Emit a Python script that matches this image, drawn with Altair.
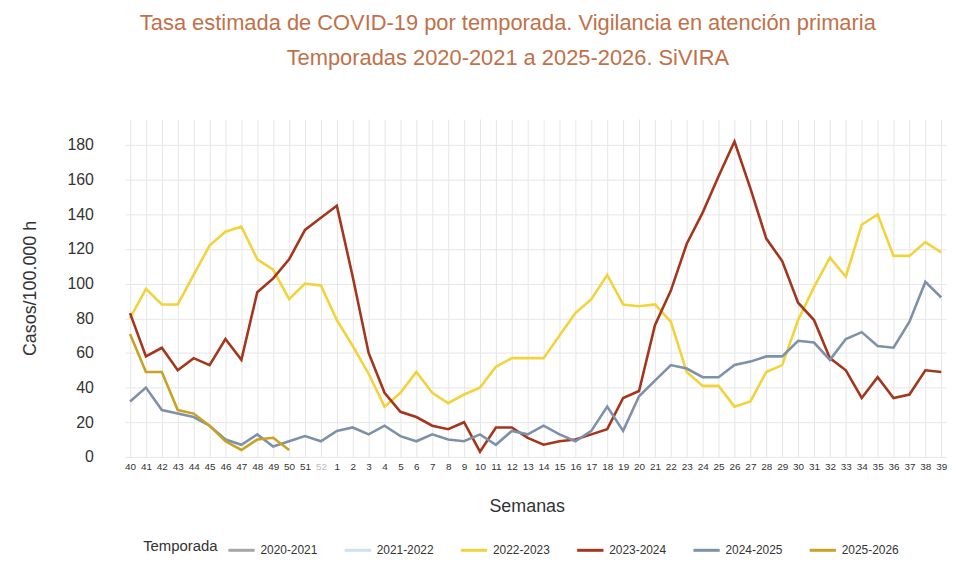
import altair as alt
import pandas as pd

weeks = [str(w) for w in list(range(40, 53)) + list(range(1, 40))]

seasons = ["2020-2021", "2021-2022", "2022-2023", "2023-2024", "2024-2025", "2025-2026"]
colors = ["#A6A6A6", "#CFE0F0", "#F2D33C", "#A3361C", "#7D91AA", "#C9A224"]

s2022_2023 = [80, 97, 88, 88, 105, 122, 130, 133, 114, 108, 91, 100, 99,
              79, 64, 48, 29, 37, 49, 37, 31, 36, 40, 52, 57, 57, 57, 70, 83, 91, 105, 88,
              87, 88, 78, 49, 41, 41, 29, 32, 49, 53, 79, 98, 115, 104, 134, 140, 116, 116, 124, 118]
s2023_2024 = [83, 58, 63, 50, 57, 53, 68, 56, 95, 103, 114, 131, 138,
              145, 104, 60, 37, 26, 23, 18, 16, 20, 3, 17, 17, 11, 7, 9, 10, 13, 16, 34,
              38, 76, 96, 123, 141, 162, 182, 155, 126, 113, 89, 79, 57, 50, 34, 46, 34, 36, 50, 49]
s2024_2025 = [32, 40, 27, 25, 23, 18, 10, 7, 13, 6, 9, 12, 9,
              15, 17, 13, 18, 12, 9, 13, 10, 9, 13, 7, 15, 13, 18, 13, 9, 15, 29, 15,
              35, 44, 53, 51, 46, 46, 53, 55, 58, 58, 67, 66, 56, 68, 72, 64, 63, 78, 101, 92]
s2025_2026 = [71, 49, 49, 27, 25, 18, 9, 4, 10, 11, 4]

rows = []
for name, vals in [("2022-2023", s2022_2023), ("2023-2024", s2023_2024),
                   ("2024-2025", s2024_2025), ("2025-2026", s2025_2026)]:
    for w, v in zip(weeks, vals):
        rows.append({"Semana": w, "Tasa": v, "Temporada": name})
df = pd.DataFrame(rows)

font = "Liberation Sans"

chart = alt.Chart(df).mark_line(strokeWidth=2.6).encode(
    x=alt.X("Semana:N", sort=weeks,
            scale=alt.Scale(type="point", padding=0.3, domain=weeks),
            axis=alt.Axis(title="Semanas", labelAngle=0, labelFontSize=10,
                          labelColor={"expr": "datum.value == '52' ? '#BBBBBB' : '#333333'"},
                          labelPadding=5, titlePadding=26, titleFontSize=18,
                          titleFontWeight="normal", titleColor="#333333",
                          domain=False, ticks=False, grid=True, gridColor="#E6E6E6",
                          labelFont=font, titleFont=font, titleX=404)),
    y=alt.Y("Tasa:Q", scale=alt.Scale(domain=[0, 195], nice=False),
            axis=alt.Axis(title="Casos/100.000 h", values=list(range(0, 181, 20)),
                          labelFontSize=16, labelColor="#333333", labelPadding=32,
                          titleFontSize=18, titleFontWeight="normal", titleColor="#333333",
                          titlePadding=28, domain=False, ticks=False,
                          gridColor="#E6E6E6", labelFont=font, titleFont=font)),
    color=alt.Color("Temporada:N",
                    scale=alt.Scale(domain=seasons, range=colors),
                    legend=alt.Legend(orient="none", direction="horizontal",
                                      legendX=18, legendY=419,
                                      titleOrient="left", title="Temporada",
                                      titleBaseline="middle", titleAnchor="middle",
                                      titleFontSize=15, titleFontWeight="normal",
                                      titleColor="#333333", titleFont=font,
                                      labelFontSize=12, labelColor="#333333", labelFont=font,
                                      symbolType="stroke", symbolSize=700,
                                      symbolStrokeWidth=3, columnPadding=20,
                                      titlePadding=8)),
).properties(
    width=826, height=340,
    title=alt.TitleParams(
        text=["Tasa estimada de COVID-19 por temporada. Vigilancia en atención primaria",
              "Temporadas 2020-2021 a 2025-2026. SiVIRA"],
        color="#C0714A", fontSize=22, fontWeight="normal", font=font,
        lineHeight=36, anchor="middle", offset=49, dx=-28),
    autosize=alt.AutoSizeParams(type="none"),
    padding={"left": 118, "top": 110, "right": 6, "bottom": 100},
).configure_view(stroke=None)

chart.save("out.html", embed_options={"renderer": "svg", "actions": False})
